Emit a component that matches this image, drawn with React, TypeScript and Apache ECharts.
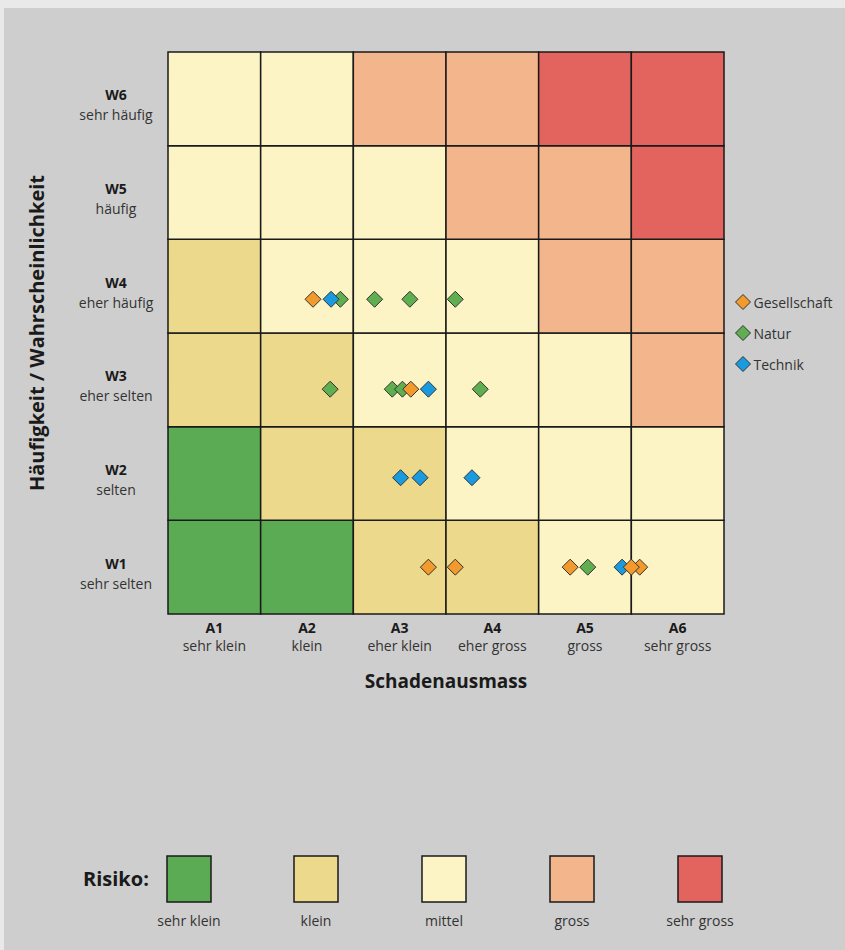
import React, { useEffect, useRef } from "react";
import * as echarts from "echarts";

const xCats = ["A1", "A2", "A3", "A4", "A5", "A6"];
const xDesc = ["sehr klein", "klein", "eher klein", "eher gross", "gross", "sehr gross"];
const yCats = ["W1", "W2", "W3", "W4", "W5", "W6"];
const yDesc = ["sehr selten", "selten", "eher selten", "eher häufig", "häufig", "sehr häufig"];

// risk level per cell, rows W1..W6, columns A1..A6
const riskMatrix = [
  [0, 0, 1, 1, 2, 2],
  [0, 1, 1, 2, 2, 2],
  [1, 1, 2, 2, 2, 3],
  [1, 2, 2, 2, 3, 3],
  [2, 2, 2, 3, 3, 4],
  [2, 2, 3, 3, 4, 4],
];
const riskNames = ["sehr klein", "klein", "mittel", "gross", "sehr gross"];
const riskColors = ["#5aab53", "#ecd98b", "#fcf4c5", "#f3b58c", "#e3645e"];

const natur = [
  [1.86, 3.36], [2.23, 3.36], [2.61, 3.36], [3.1, 3.36],
  [1.75, 2.4], [2.42, 2.4], [2.53, 2.4], [3.37, 2.4],
  [4.53, 0.5],
];
const technik = [
  [1.76, 3.36], [2.81, 2.4],
  [2.51, 1.455], [2.72, 1.455], [3.28, 1.455],
  [4.9, 0.5],
];
const gesellschaft = [
  [1.565, 3.36], [2.62, 2.4],
  [2.81, 0.5], [3.1, 0.5], [4.34, 0.5], [5.09, 0.5], [5.0, 0.5],
];
const seriesNames = ["Gesellschaft", "Natur", "Technik"];
const seriesColors = { Gesellschaft: "#f39a2c", Natur: "#5fae4f", Technik: "#1a9be0" };

const FONT = "'Open Sans', 'Noto Sans', sans-serif";

export default function App() {
  const ref = useRef<HTMLDivElement>(null);
  useEffect(() => {
    document.body.style.margin = "0";
    const chart = echarts.init(ref.current!, null, { renderer: "svg" });
    const cells: number[][] = [];
    riskMatrix.forEach((row, yi) => row.forEach((lv, xi) => cells.push([xi, yi, lv])));

    const legendX = [189, 316, 444, 572, 700];
    const graphic: any[] = [
      { type: "rect", shape: { x: 0, y: 0, width: 845, height: 8 }, style: { fill: "#e9e9e9" }, silent: true },
      { type: "rect", shape: { x: 0, y: 0, width: 4, height: 950 }, style: { fill: "#e9e9e9" }, silent: true },
      {
        type: "text", x: 83, y: 878,
        style: { text: "Risiko:", font: `bold 20px ${FONT}`, fill: "#1a1a1a", textVerticalAlign: "middle" },
      },
    ];
    riskNames.forEach((n, i) => {
      graphic.push({
        type: "rect",
        shape: { x: legendX[i] - 22, y: 856, width: 44, height: 46 },
        style: { fill: riskColors[i], stroke: "#1a1a1a", lineWidth: 1.5 },
      });
      graphic.push({
        type: "text", x: legendX[i], y: 920,
        style: { text: n, font: `14px ${FONT}`, fill: "#333", textAlign: "center", textVerticalAlign: "middle" },
      });
    });

    chart.setOption({
      animation: false,
      backgroundColor: "#cecece",
      textStyle: { fontFamily: FONT },
      grid: { left: 168, right: 121, top: 52, bottom: 336 },
      legend: {
        data: seriesNames,
        orient: "vertical",
        left: 730,
        top: 289,
        itemWidth: 15,
        itemHeight: 15,
        itemGap: 15,
        icon: "diamond",
        textStyle: { fontSize: 14, color: "#333", fontFamily: FONT, padding: [0, 0, 0, -2] },
        itemStyle: { borderColor: "#333", borderWidth: 1 },
      },
      xAxis: [
        {
          type: "category",
          data: xCats,
          axisLine: { show: false },
          axisTick: { show: false },
          splitLine: { show: false },
          axisLabel: {
            margin: 4,
            interval: 0,
            formatter: (v: string, i: number) => `{b|${v}}\n{n|${xDesc[i]}}`,
            rich: {
              b: { fontWeight: "bold", fontSize: 14, lineHeight: 18, color: "#1a1a1a", fontFamily: FONT },
              n: { fontSize: 14, lineHeight: 18, color: "#333", fontFamily: FONT },
            },
          },
          name: "Schadenausmass",
          nameLocation: "middle",
          nameGap: 57,
          nameTextStyle: { fontWeight: "bold", fontSize: 19, color: "#1a1a1a", fontFamily: FONT },
        },
        { type: "value", min: 0, max: 6, show: false },
      ],
      yAxis: [
        {
          type: "category",
          data: yCats,
          axisLine: { show: false },
          axisTick: { show: false },
          splitLine: { show: false },
          axisLabel: {
            margin: 52,
            align: "center",
            interval: 0,
            padding: [12, 0, 0, 0],
            formatter: (v: string, i: number) => `{b|${v}}\n{n|${yDesc[i]}}`,
            rich: {
              b: { fontWeight: "bold", fontSize: 14, lineHeight: 20, color: "#1a1a1a", fontFamily: FONT, align: "center" },
              n: { fontSize: 14, lineHeight: 20, color: "#333", fontFamily: FONT, align: "center" },
            },
          },
          name: "Häufigkeit / Wahrscheinlichkeit",
          nameLocation: "middle",
          nameGap: 122,
          nameRotate: 90,
          nameTextStyle: { fontWeight: "bold", fontSize: 20, color: "#1a1a1a", fontFamily: FONT },
        },
        { type: "value", min: 0, max: 6, show: false },
      ],
      series: [
        {
          type: "custom",
          xAxisIndex: 0,
          yAxisIndex: 0,
          data: cells,
          encode: { x: 0, y: 1 },
          silent: true,
          z: 1,
          renderItem: (params: any, api: any) => {
            const c = api.coord([api.value(0), api.value(1)]);
            const s = api.size([1, 1]);
            return {
              type: "rect",
              shape: { x: c[0] - s[0] / 2, y: c[1] - s[1] / 2, width: s[0], height: s[1] },
              style: { fill: riskColors[api.value(2)], stroke: "#1a1a1a", lineWidth: 1.5 },
            };
          },
        },
        {
          name: "Natur", type: "scatter", xAxisIndex: 1, yAxisIndex: 1, data: natur,
          symbol: "diamond", symbolSize: 16, z: 3,
          itemStyle: { color: seriesColors.Natur, borderColor: "#333", borderWidth: 1, opacity: 1 },
        },
        {
          name: "Technik", type: "scatter", xAxisIndex: 1, yAxisIndex: 1, data: technik,
          symbol: "diamond", symbolSize: 16, z: 4,
          itemStyle: { color: seriesColors.Technik, borderColor: "#333", borderWidth: 1, opacity: 1 },
        },
        {
          name: "Gesellschaft", type: "scatter", xAxisIndex: 1, yAxisIndex: 1, data: gesellschaft,
          symbol: "diamond", symbolSize: 16, z: 5,
          itemStyle: { color: seriesColors.Gesellschaft, borderColor: "#333", borderWidth: 1, opacity: 1 },
        },
      ],
      graphic,
    });
    return () => chart.dispose();
  }, []);
  return <div ref={ref} style={{ width: 845, height: 950 }} />;
}
